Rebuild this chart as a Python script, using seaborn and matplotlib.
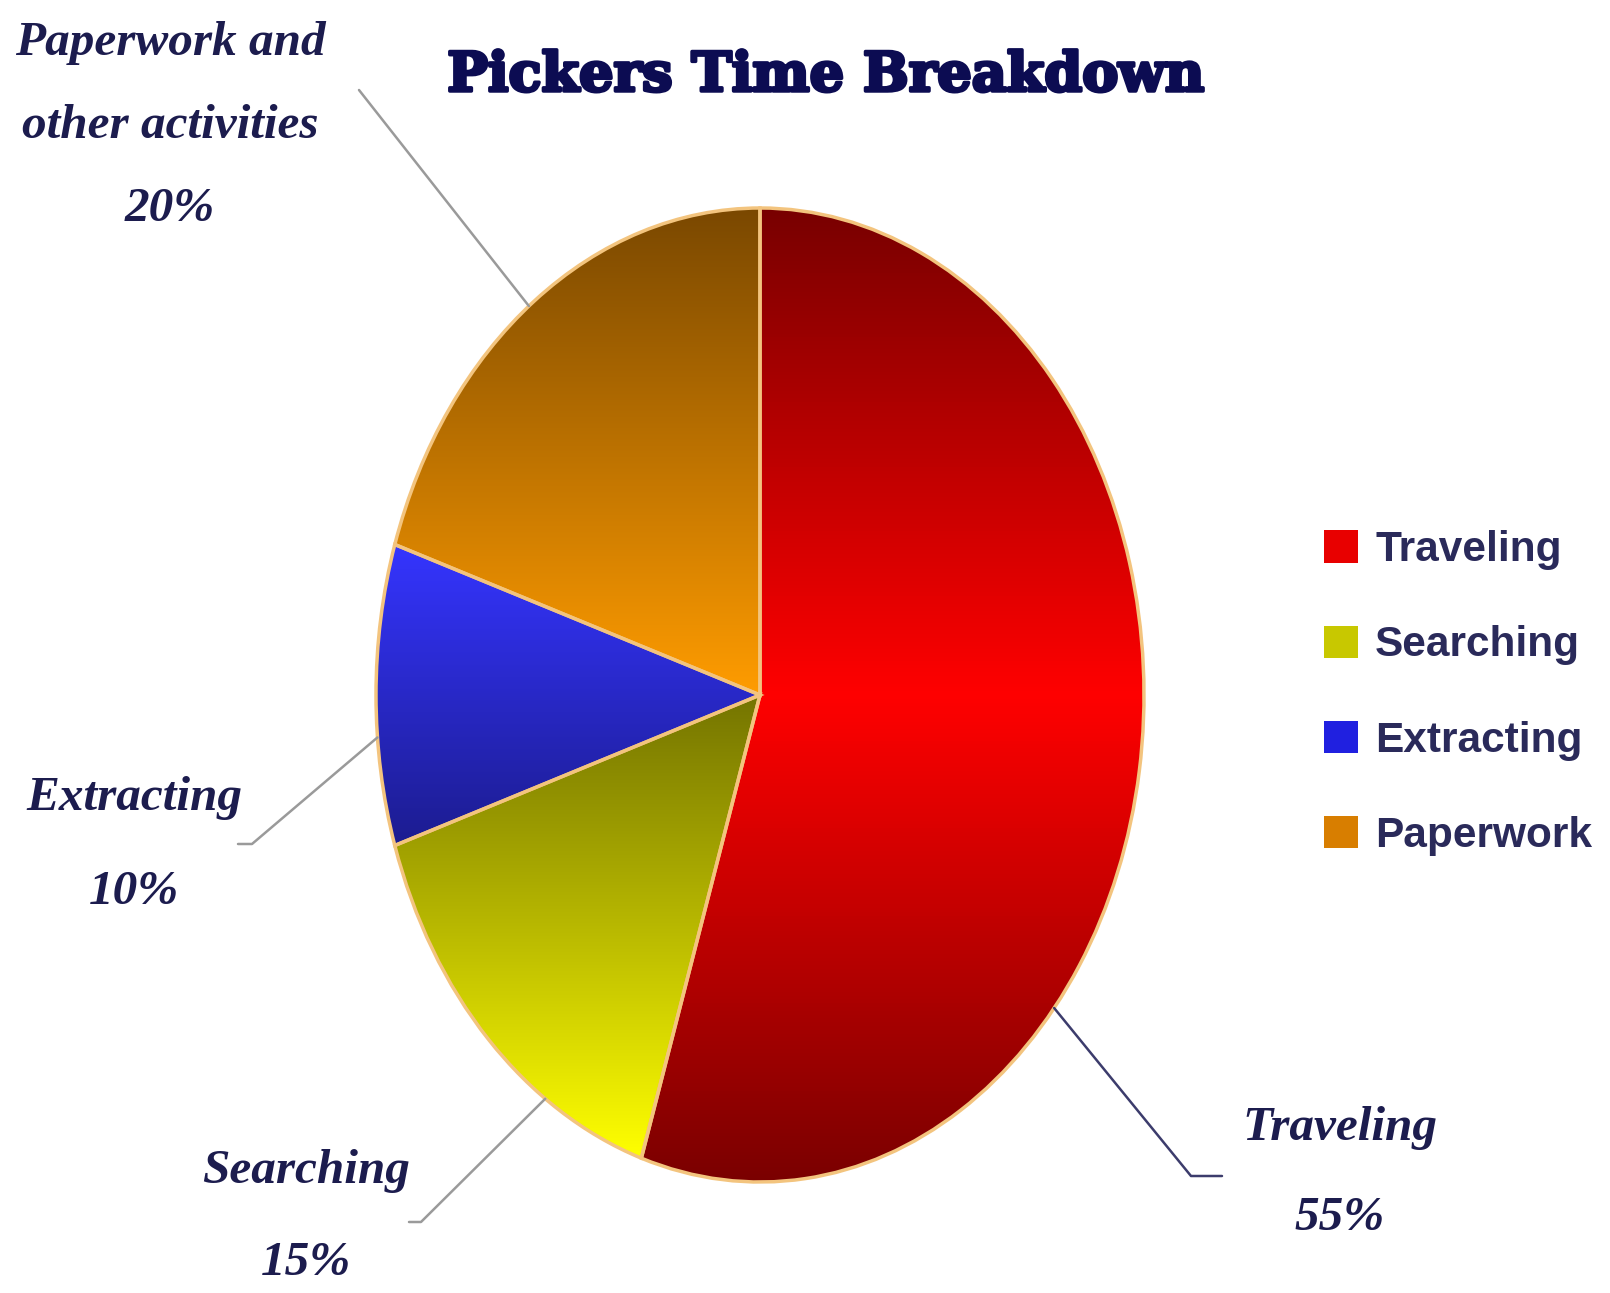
import numpy as np
import matplotlib
matplotlib.use("Agg")
import matplotlib.pyplot as plt
import matplotlib.patheffects as pe
import seaborn as sns
from matplotlib.patches import Patch
from matplotlib.lines import Line2D

# data
activities = ["Traveling", "Searching", "Extracting", "Paperwork"]
shares = [55, 15, 10, 20]
callouts = ["Traveling\n55%", "Searching\n15%", "Extracting\n10%",
            "Paperwork and\nother activities\n20%"]
# gradient stops for each slice, top -> bottom
gradients = [["#780000", "#ff0000", "#7a0000"],
             ["#747400", "#b8b800", "#ffff00"],
             ["#3535ff", "#1c1c90"],
             ["#7a4800", "#ff9c00"]]
legend_colors = ["#e80000", "#c8c800", "#2020e0", "#d87e00"]

sns.set_theme(style="white")
plt.rcParams['font.family'] = ['Liberation Serif', 'DejaVu Serif']

W, H = 1610, 1293
fig = plt.figure(figsize=(W / 100, H / 100), dpi=100)
fig.patch.set_facecolor("white")


def fxy(px, py):
    return px / W, 1 - py / H


# pie axes is stretched vertically so the pie becomes an ellipse
ax = fig.add_axes([376 / W, 1 - 1182 / H, 768 / W, 974 / H])
wedges, _ = ax.pie(shares, startangle=90, counterclock=False, radius=1,
                   wedgeprops=dict(edgecolor="#f3c47e", linewidth=2.5))

for w, stops in zip(wedges, gradients):
    bb = w.get_path().get_extents()
    cmap = sns.blend_palette(stops, as_cmap=True)
    grad = np.linspace(0, 1, 256).reshape(-1, 1)
    im = ax.imshow(grad, cmap=cmap, extent=[bb.x0, bb.x1, bb.y0, bb.y1],
                   origin="upper", aspect="auto", zorder=0.5)
    im.set_clip_path(w)
    w.set_facecolor("none")
    w.set_clip_on(False)

ax.set_aspect("auto")
ax.set_xlim(-1, 1)
ax.set_ylim(-1, 1)
ax.axis("off")

# callout labels and leader lines:
# (text centre px, line spacing, anchor angle, elbow px, end px, line colour)
layout = [
    ((1340, 1173), 2.35, -40, (1191, 1176), (1222, 1176), "#3c3c6c"),
    ((306, 1217), 2.4, -124, (421, 1222), (409, 1222), "#9a9a9a"),
    ((134, 845), 2.45, -175, (252, 844), (238, 844), "#9a9a9a"),
    ((170, 126), 2.15, 127, (359, 90), (359, 90), "#9a9a9a"),
]

to_fig = fig.transFigure.inverted()
for text, (tpos, ls, ang, elbow, end, lc) in zip(callouts, layout):
    fig.text(*fxy(*tpos), text, ha="center", va="center", fontsize=35.5,
             fontweight="bold", style="italic", color="#1c1c4e",
             linespacing=ls)
    a = np.deg2rad(ang)
    edge = to_fig.transform(ax.transData.transform((np.cos(a), np.sin(a))))
    e1 = fxy(*elbow)
    e2 = fxy(*end)
    fig.add_artist(Line2D([edge[0], e1[0], e2[0]], [edge[1], e1[1], e2[1]],
                          color=lc, lw=1.8, transform=fig.transFigure))

title = fig.text(*fxy(826, 76), "Pickers Time Breakdown", ha="center", va="center",
                 fontsize=39, fontweight="heavy", family="DejaVu Serif", color="#0c0c52")
title.set_path_effects([pe.withStroke(linewidth=2.5, foreground="#0c0c52")])

handles = [Patch(facecolor=c, edgecolor="none") for c in legend_colors]
leg = fig.legend(handles, activities, loc="center left",
                 bbox_to_anchor=fxy(1303, 693), frameon=False,
                 prop=dict(family="Liberation Sans", weight="bold", size=30.5),
                 handlelength=0.8, handleheight=0.8, handletextpad=0.4,
                 labelspacing=1.3, borderpad=0)
for t in leg.get_texts():
    t.set_color("#2a2a5a")

fig.savefig("out.png", dpi=100, facecolor="white")
